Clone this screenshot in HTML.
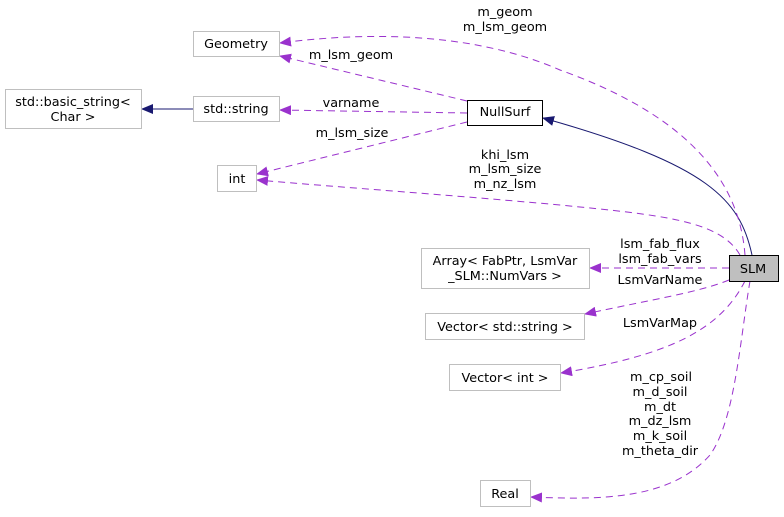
<!DOCTYPE html>
<html><head><style>
html,body{margin:0;padding:0;background:#fff;}
svg text{font-family:"DejaVu Sans","Liberation Sans",sans-serif;font-size:12.8px;fill:#000;}
</style></head><body>
<svg width="784" height="512" viewBox="0 0 784 512" xmlns="http://www.w3.org/2000/svg">
<defs>
<marker id="p" markerWidth="12" markerHeight="10" refX="11" refY="5" orient="auto" markerUnits="userSpaceOnUse"><path d="M0,0 L12,5 L0,10 z" fill="#9a32cd"/></marker>
<marker id="n" markerWidth="12" markerHeight="10" refX="11" refY="5" orient="auto" markerUnits="userSpaceOnUse"><path d="M0,0 L12,5 L0,10 z" fill="#191970"/></marker>
</defs>
<g fill="none" stroke-width="1">
<path d="M193,109 L142,109" stroke="#191970" marker-end="url(#n)"/>
<path d="M752,255 C740,200 710,165 543,118" stroke="#191970" marker-end="url(#n)"/>
<g stroke="#9a32cd" stroke-dasharray="7,5" marker-end="url(#p)">
<path d="M745,255 C740,190 700,120 560,70 C480,35 380,30 280,43"/>
<path d="M467,101 L280,56"/>
<path d="M467,113 L280,110"/>
<path d="M467,122 L257,174"/>
<path d="M740,255 C720,220 660,215 560,205 C450,195 350,188 257,180"/>
<path d="M729,268 L590,268"/>
<path d="M729,280 C700,292 650,300 585,314"/>
<path d="M745,281 C720,330 670,355 561,373"/>
<path d="M750,281 C740,340 735,420 710,455 C670,500 600,500 531,497"/>
</g>
</g>
<g stroke="#bfbfbf" fill="#fff">
<rect x="193.5" y="31.5" width="86" height="25"/>
<rect x="5.5" y="89.5" width="136" height="39"/>
<rect x="193.5" y="96.5" width="86" height="25"/>
<rect x="217.5" y="165.5" width="39" height="26"/>
<rect x="421.5" y="248.5" width="168" height="40"/>
<rect x="425.5" y="313.5" width="159" height="26"/>
<rect x="449.5" y="364.5" width="111" height="26"/>
<rect x="480.5" y="480.5" width="50" height="26"/>
</g>
<rect x="467.5" y="100.5" width="75" height="25" fill="#fff" stroke="#000"/>
<rect x="729.5" y="255.5" width="49" height="26" fill="#bfbfbf" stroke="#000"/>
<g text-anchor="middle">
<text x="236" y="48">Geometry</text>
<text x="73" y="106">std::basic_string&lt;</text>
<text x="73" y="121">Char &gt;</text>
<text x="236" y="113">std::string</text>
<text x="237" y="183">int</text>
<text x="505" y="116">NullSurf</text>
<text x="753" y="273">SLM</text>
<text x="505" y="265">Array&lt; FabPtr, LsmVar</text>
<text x="505" y="280">_SLM::NumVars &gt;</text>
<text x="505" y="331">Vector&lt; std::string &gt;</text>
<text x="505" y="382">Vector&lt; int &gt;</text>
<text x="505" y="498">Real</text>
<text x="505" y="16">m_geom</text>
<text x="505" y="31">m_lsm_geom</text>
<text x="351" y="59">m_lsm_geom</text>
<text x="351" y="107">varname</text>
<text x="352" y="137">m_lsm_size</text>
<text x="505" y="159">khi_lsm</text>
<text x="505" y="173">m_lsm_size</text>
<text x="505" y="188">m_nz_lsm</text>
<text x="660" y="248">lsm_fab_flux</text>
<text x="660" y="263">lsm_fab_vars</text>
<text x="660" y="284">LsmVarName</text>
<text x="660" y="327">LsmVarMap</text>
<text x="661" y="381">m_cp_soil</text>
<text x="660" y="396">m_d_soil</text>
<text x="660" y="411">m_dt</text>
<text x="660" y="425">m_dz_lsm</text>
<text x="660" y="440">m_k_soil</text>
<text x="660" y="455">m_theta_dir</text>
</g>
</svg>
</body></html>
